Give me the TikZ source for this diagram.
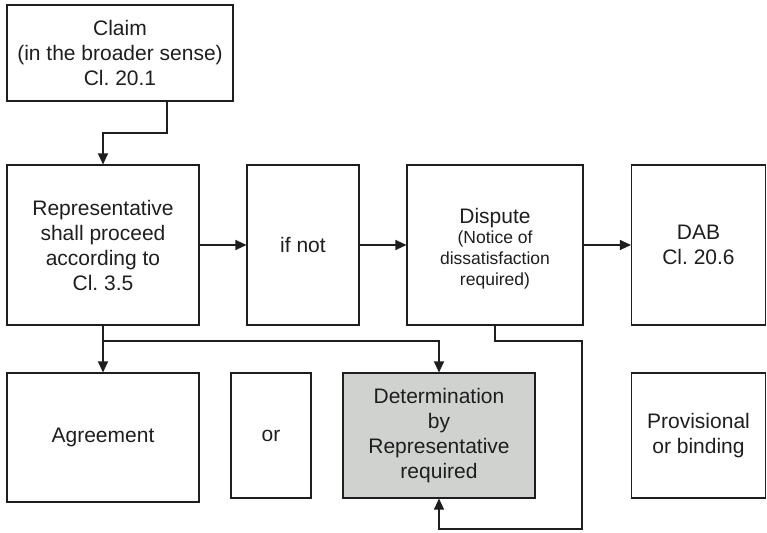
\documentclass[tikz,border=0pt]{standalone}
\usepackage{fontspec}
\setmainfont{Liberation Sans}
\usetikzlibrary{arrows.meta}
\definecolor{boxgray}{RGB}{208,210,208}
\definecolor{ink}{RGB}{30,30,30}
\newcommand{\smallsub}{\fontsize{17.5}{21}\selectfont}
\begin{document}
\begin{tikzpicture}[x=1pt,y=-1pt,
  box/.style={draw=ink,line width=1.1pt,rectangle,align=center,inner sep=0pt,text=ink,
    font=\fontsize{21}{25}\selectfont\frenchspacing},
  arr/.style={draw=ink,line width=1.1pt,-{Triangle[length=11pt,width=10pt]}}]
\useasboundingbox (0,0) rectangle (767,532);
\node[box,minimum width=226pt,minimum height=96pt] (claim) at (120,53) {Claim\\(in the broader sense)\\Cl. 20.1};
\node[box,minimum width=192pt,minimum height=160pt] (rep) at (103,245) {Representative\\shall proceed\\according to\\Cl. 3.5};
\node[box,minimum width=112pt,minimum height=160pt] (ifnot) at (303,245) {if not};
\node[box,minimum width=176pt,minimum height=160pt] (dispute) at (495,245) {\rule{0pt}{25pt}Dispute\\[-5pt]{\smallsub\begin{tabular}[t]{@{}c@{}}(Notice of\\dissatisfaction\\required)\end{tabular}}};
\node[box,minimum width=134pt,minimum height=160pt] (dab) at (698.5,245) {DAB\\Cl. 20.6};
\node[box,minimum width=192pt,minimum height=129pt] (agree) at (103,437.5) {Agreement};
\node[box,minimum width=80pt,minimum height=125pt] (or) at (271,435.5) {or};
\node[box,fill=boxgray,minimum width=192pt,minimum height=125pt] (det) at (439,435.5) {Determination\\by\\Representative\\required};
\node[box,minimum width=134pt,minimum height=125pt] (prov) at (698.5,435.5) {Provisional\\or binding};
\coordinate (c1) at (167,133);
\coordinate (j) at (103,341);
\coordinate (lt) at (582,341);
\coordinate (lb) at (582,529);
\draw[arr] (claim.south -| c1) -- (c1) -| (rep.north);
\draw[arr] (rep.east) -- (ifnot.west);
\draw[arr] (ifnot.east) -- (dispute.west);
\draw[arr] (dispute.east) -- (dab.west);
\draw[arr] (rep.south) -- (agree.north);
\draw[arr] (j) -| (det.north);
\draw[arr] (dispute.south) |- (lt) -- (lb) -| (det.south);
\end{tikzpicture}
\end{document}
